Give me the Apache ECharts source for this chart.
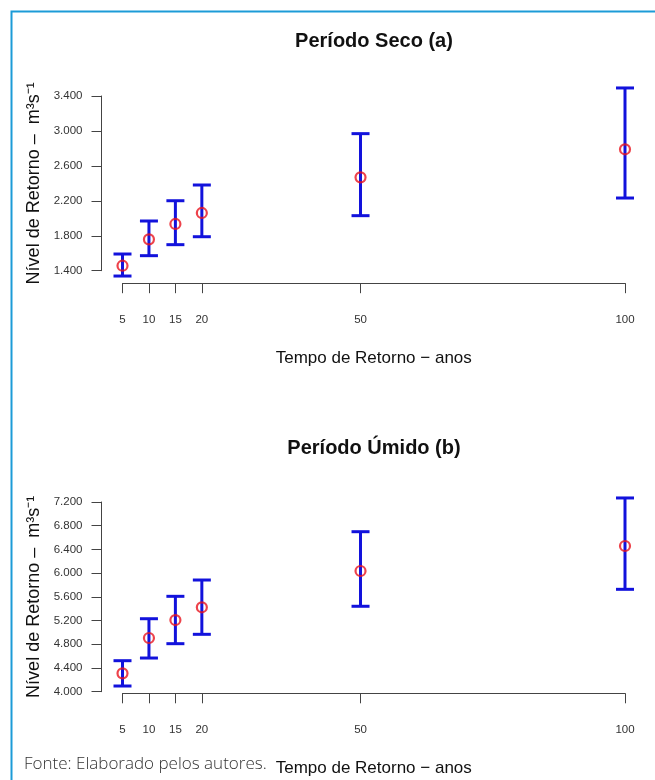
<!DOCTYPE html>
<html>
<head>
<meta charset="utf-8">
<script src="https://cdn.jsdelivr.net/npm/echarts@6/dist/echarts.min.js"></script>
<style>
  html, body { margin: 0; padding: 0; background: #fff; }
  #chart { width: 655px; height: 780px; }
</style>
</head>
<body>
<div id="chart"></div>
<script>
// tempo de retorno (anos)
const returnPeriods = [5, 10, 15, 20, 50, 100];

// período seco (a)
const secoEst = [1457, 1759, 1935, 2061, 2469, 2790];
const secoLow = [1339, 1572, 1698, 1789, 2030, 2232];
const secoHigh = [1591, 1969, 2201, 2381, 2969, 3492];
const secoTicks = [1400, 1800, 2200, 2600, 3000, 3400];

// período úmido (b)
const umidoEst = [4310, 4906, 5209, 5424, 6036, 6458];
const umidoLow = [4096, 4568, 4810, 4968, 5441, 5727];
const umidoHigh = [4523, 5231, 5609, 5884, 6699, 7268];
const umidoTicks = [4000, 4400, 4800, 5200, 5600, 6000, 6400, 6800, 7200];

const FONT = 'Liberation Sans, Arial, sans-serif';
const AXIS_COLOR = '#444';
const BAR_COLOR = '#1212dc';
const PT_COLOR = '#e8141e';

const fmt = v => {
  const s = String(Math.round(v));
  return s.length > 3 ? s.slice(0, -3) + '.' + s.slice(-3) : s;
};

const chart = echarts.init(document.getElementById('chart'));

function errorBar(api) {
  const x = api.value(0);
  const lo = api.coord([x, api.value(1)]);
  const hi = api.coord([x, api.value(2)]);
  const cap = 9;
  const style = { stroke: BAR_COLOR, lineWidth: 3 };
  return {
    type: 'group',
    children: [
      { type: 'line', shape: { x1: lo[0], y1: lo[1], x2: hi[0], y2: hi[1] }, style },
      { type: 'line', shape: { x1: lo[0] - cap, y1: lo[1], x2: lo[0] + cap, y2: lo[1] }, style },
      { type: 'line', shape: { x1: hi[0] - cap, y1: hi[1], x2: hi[0] + cap, y2: hi[1] }, style }
    ]
  };
}

function xAxisCfg(gridIndex, offset) {
  return {
    type: 'value', gridIndex, min: 5, max: 100, offset,
    name: 'Tempo de Retorno \u2212 anos', nameLocation: 'middle', nameGap: 67,
    nameTextStyle: { fontFamily: FONT, fontSize: 17, color: '#111' },
    axisLine: { lineStyle: { color: AXIS_COLOR, width: 1 } },
    axisTick: { length: 10, customValues: returnPeriods, lineStyle: { color: AXIS_COLOR } },
    axisLabel: { customValues: returnPeriods, margin: 31, fontFamily: FONT, fontSize: 11.5, color: '#333' },
    splitLine: { show: false }
  };
}

function yAxisCfg(gridIndex, ticks) {
  return {
    type: 'value', gridIndex, min: ticks[0], max: ticks[ticks.length - 1], offset: 21,
    name: 'N\u00edvel de Retorno \u2013  m\u00b3s\u207b\u00b9', nameLocation: 'middle', nameGap: 54,
    nameTextStyle: { fontFamily: FONT, fontSize: 18, color: '#111' },
    axisLine: { show: true, lineStyle: { color: AXIS_COLOR, width: 1 } },
    axisTick: { length: 10, customValues: ticks, lineStyle: { color: AXIS_COLOR } },
    axisLabel: { customValues: ticks, margin: 19, fontFamily: FONT, fontSize: 11.5, color: '#333', formatter: fmt },
    splitLine: { show: false }
  };
}

const toBars = (lo, hi) => returnPeriods.map((x, i) => [x, lo[i], hi[i]]);
const toPts = est => returnPeriods.map((x, i) => [x, est[i]]);

chart.setOption({
  animation: false,
  title: [
    { text: 'Per\u00edodo Seco (a)', left: 369, top: 26, textAlign: 'center',
      textStyle: { fontFamily: FONT, fontSize: 20, fontWeight: 'bold', color: '#111' } },
    { text: 'Per\u00edodo \u00damido (b)', left: 369, top: 433, textAlign: 'center',
      textStyle: { fontFamily: FONT, fontSize: 20, fontWeight: 'bold', color: '#111' } }
  ],
  grid: [
    { left: 122.5, right: 30, top: 96, height: 174.7 },
    { left: 122.5, right: 30, top: 502, height: 189.7 }
  ],
  xAxis: [xAxisCfg(0, 12.5), xAxisCfg(1, 1.6)],
  yAxis: [yAxisCfg(0, secoTicks), yAxisCfg(1, umidoTicks)],
  graphic: [
    { type: 'rect', silent: true, shape: { x: 11.5, y: 11.5, width: 700, height: 800 },
      style: { fill: 'none', stroke: '#1c9bd7', lineWidth: 2 } },
    { type: 'text', left: 24, top: 756,
      style: { text: 'Fonte: Elaborado pelos autores.', font: '300 17px "Open Sans", sans-serif', fill: '#333' } }
  ],
  series: [
    { type: 'custom', xAxisIndex: 0, yAxisIndex: 0, renderItem: (p, api) => errorBar(api),
      data: toBars(secoLow, secoHigh), clip: false },
    { type: 'scatter', xAxisIndex: 0, yAxisIndex: 0, symbol: 'circle', symbolSize: 10, clip: false,
      itemStyle: { color: 'transparent', borderColor: PT_COLOR, borderWidth: 2.2 }, data: toPts(secoEst) },
    { type: 'custom', xAxisIndex: 1, yAxisIndex: 1, renderItem: (p, api) => errorBar(api),
      data: toBars(umidoLow, umidoHigh), clip: false },
    { type: 'scatter', xAxisIndex: 1, yAxisIndex: 1, symbol: 'circle', symbolSize: 10, clip: false,
      itemStyle: { color: 'transparent', borderColor: PT_COLOR, borderWidth: 2.2 }, data: toPts(umidoEst) }
  ]
});
</script>
</body>
</html>
